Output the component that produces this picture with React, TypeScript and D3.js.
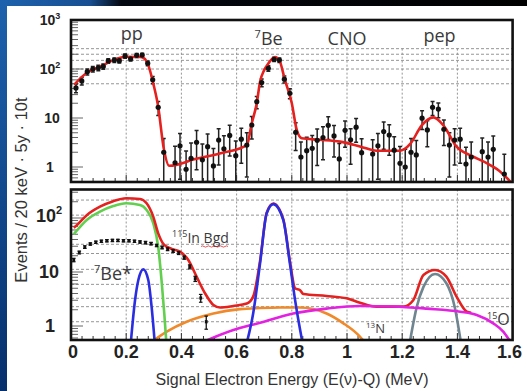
import React from "react";
import * as d3 from "d3";

// ---- upper panel: measured spectrum (E in MeV, events per bin) ----
const dataE = [0.018, 0.039, 0.059, 0.079, 0.099, 0.117, 0.135, 0.157, 0.175, 0.196, 0.216, 0.238, 0.258, 0.278, 0.296, 0.316, 0.336, 0.377, 0.395, 0.417, 0.435, 0.455, 0.476, 0.495, 0.516, 0.535, 0.554, 0.575, 0.597, 0.617, 0.637, 0.655, 0.673, 0.691, 0.715, 0.736, 0.755, 0.773, 0.793, 0.814, 0.833, 0.854, 0.874, 0.892, 0.913, 0.932, 0.953, 0.972, 0.993, 1.013, 1.033, 1.053, 1.093, 1.112, 1.133, 1.153, 1.171, 1.192, 1.211, 1.232, 1.251, 1.272, 1.291, 1.31, 1.331, 1.351, 1.371, 1.39, 1.41, 1.431, 1.45, 1.49, 1.511, 1.53, 1.57];
const dataV = [41, 57, 88, 100, 106, 113, 146, 152, 148, 184, 162, 190, 192, 131, 60, 16.5, 2.0, 1.22, 2.7, 0.9, 1.5, 3.2, 1.4, 2.6, 1.05, 3.55, 2.36, 4.4, 1.7, 3.7, 2.8, 7.2, 21.5, 53, 103, 158, 152, 62, 32, 5.1, 1.6, 2.15, 2.4, 3.5, 4.0, 7.1, 4.3, 1.46, 5.6, 3.6, 6.5, 1.96, 1.84, 2.7, 5.3, 4.5, 2.2, 1.19, 1.0, 2.0, 1.76, 9.9, 5.7, 16.5, 15.2, 5.9, 2.8, 3.55, 3.7, 1.15, 1.6, 2.05, 1.6, 2.3, 0.72];

// fitted total spectrum
const fitE = [0.012, 0.057, 0.105, 0.153, 0.2, 0.25, 0.265, 0.28, 0.298, 0.316, 0.335, 0.356, 0.45, 0.55, 0.637, 0.655, 0.673, 0.685, 0.7, 0.715, 0.739, 0.755, 0.775, 0.8, 0.818, 0.836, 0.9, 0.975, 1.05, 1.107, 1.19, 1.23, 1.27, 1.313, 1.35, 1.397, 1.45, 1.506, 1.55, 1.6];
const fitV = [48, 84, 111, 152, 178, 176, 165, 120, 51, 17, 2.6, 1.06, 1.45, 1.95, 2.8, 7.8, 20, 55, 95, 130, 175, 150, 60, 20, 5.7, 3.85, 3.6, 3.3, 2.6, 2.15, 2.15, 3.0, 7, 10.3, 7, 2.6, 1.7, 1.2, 0.85, 0.45];

const topLabels = ["pp", "CNO", "pep"];
const topLabelE = [0.22, 1.0, 1.335];

// ---- lower panel: expected components ----
const totalE = [0.01, 0.018, 0.057, 0.105, 0.153, 0.2, 0.25, 0.274, 0.298, 0.316, 0.335, 0.359, 0.395, 0.425, 0.455, 0.486, 0.516, 0.54, 0.588, 0.637, 0.66, 0.685, 0.709, 0.733, 0.769, 0.793, 0.812, 0.83, 0.842, 0.926, 0.999, 1.047, 1.107, 1.204, 1.24, 1.277, 1.319, 1.36, 1.397, 1.434, 1.45];
const totalV = [66, 71, 113, 162, 205, 232, 225, 187, 106, 52, 33, 27.5, 23.8, 16.7, 8.2, 4.0, 2.45, 2.2, 2.35, 2.6, 3.5, 16, 125, 185, 95, 16, 5, 4.6, 3.9, 3.6, 3.25, 2.7, 2.28, 2.28, 3.0, 8.8, 10.9, 8.2, 3.5, 1.84, 1.75];

const ppE = [0.01, 0.018, 0.057, 0.105, 0.153, 0.2, 0.25, 0.274, 0.298, 0.316, 0.328, 0.338, 0.346];
const ppV = [50, 56, 92, 131, 166, 187, 174, 141, 80, 29, 7.1, 1.7, 0.45];

const be7sE = [0.216, 0.232, 0.244, 0.262, 0.28, 0.292, 0.304];
const be7sV = [0.45, 3.0, 7.1, 11.2, 7.1, 2.28, 0.45];

const be7E = [0.635, 0.66, 0.685, 0.709, 0.733, 0.769, 0.793, 0.812, 0.84];
const be7V = [0.45, 1.7, 14.5, 122, 181, 92, 14.5, 3.0, 0.45];

const pepE = [1.226, 1.253, 1.277, 1.319, 1.36, 1.39, 1.414];
const pepV = [0.45, 2.28, 5.3, 9.2, 6.2, 2.28, 0.45];

const n13E = [0.29, 0.347, 0.419, 0.516, 0.612, 0.685, 0.757, 0.83, 0.926, 0.987, 1.035, 1.068];
const n13V = [0.5, 0.79, 1.2, 1.7, 2.05, 2.15, 2.2, 2.2, 1.7, 1.12, 0.73, 0.48];

const o15E = [0.476, 0.588, 0.685, 0.805, 0.926, 1.047, 1.168, 1.289, 1.41, 1.47, 1.53, 1.567, 1.595];
const o15V = [0.5, 0.84, 1.15, 1.7, 2.1, 2.35, 2.3, 2.1, 1.84, 1.6, 1.12, 0.78, 0.48];

// 115In background points
const inE = [0.01, 0.03, 0.05, 0.07, 0.09, 0.11, 0.13, 0.15, 0.17, 0.19, 0.21, 0.23, 0.25, 0.27, 0.29, 0.31, 0.33, 0.35, 0.37, 0.39, 0.41, 0.43, 0.45, 0.47, 0.49];
const inV = [16.7, 23, 29, 33, 35.5, 37, 38, 38.5, 38.5, 38, 38, 37, 36, 35, 33.5, 31, 28.5, 26.5, 24.5, 22.5, 18.5, 12.5, 7.5, 3.3, 1.2];

// axis ticks
const xTicks = [0, 0.2, 0.4, 0.6, 0.8, 1, 1.2, 1.4, 1.6];
const topGridV = [260, 200, 150, 100, 50];
const botGridV = [215, 113, 32.6, 22, 11.2, 5.9, 3.26, 2.28, 1.2];

const W = 527;
const H = 391;
const X0 = 71;
const X1 = 512.6;
const TOP_Y0 = 20;
const TOP_Y1 = 182;
const BOT_Y0 = 189.5;
const BOT_Y1 = 340;

const x = d3.scaleLinear().domain([0, 1.6]).range([X0, X1]);
const yTop = d3.scaleLog().domain([1, 1000]).range([167, 20]);
const yBot = d3.scaleLog().domain([1, 100]).range([326, 218]);

const zip = (es: number[], vs: number[]) => es.map((e, i) => [e, vs[i]] as [number, number]);

function linePath(es: number[], vs: number[], y: d3.ScaleLogarithmic<number, number>) {
  return d3
    .line<[number, number]>()
    .x((d) => x(d[0]))
    .y((d) => y(d[1]))
    .curve(d3.curveMonotoneX)(zip(es, vs)) as string;
}

function logMinorTicks(lo: number, hi: number) {
  const out: { v: number; major: boolean }[] = [];
  for (let p = -1; p <= 3; p++) {
    for (let k = 1; k <= 9; k++) {
      const v = k * Math.pow(10, p);
      if (v >= lo && v <= hi) out.push({ v, major: k === 1 });
    }
  }
  return out;
}

const TICK_FONT = "'Liberation Sans', Arial, sans-serif";
const LABEL_FONT = "'Open Sans', 'Noto Sans', sans-serif";

export default function App() {
  const minorX = d3.range(0, 1.6001, 0.04);
  const gridX = [0.2, 0.4, 0.6, 0.8, 1.0, 1.2, 1.4];

  const topTicks = logMinorTicks(0.5, 1000);
  const botTicks = logMinorTicks(0.55, 340);

  const bottomCurves: { es: number[]; vs: number[]; color: string }[] = [
    { es: n13E, vs: n13V, color: "#f0892a" },
    { es: ppE, vs: ppV, color: "#62cf4f" },
    { es: pepE, vs: pepV, color: "#6f8590" },
    { es: totalE, vs: totalV, color: "#e3211f" },
    { es: o15E, vs: o15V, color: "#e321e0" },
    { es: be7sE, vs: be7sV, color: "#2a2ee0" },
    { es: be7E, vs: be7V, color: "#2a2ee0" },
  ];

  return (
    <svg
      width={W}
      height={H}
      style={{ position: "absolute", left: 0, top: 0, display: "block" }}
    >
      <defs>
        <linearGradient id="sideBlue" x1="0" y1="0" x2="0" y2="1">
          <stop offset="0" stopColor="#1d62ad" />
          <stop offset="1" stopColor="#06306c" />
        </linearGradient>
        <linearGradient id="topStrip" x1="0" y1="0" x2="1" y2="0">
          <stop offset="0" stopColor="#1d62ad" />
          <stop offset="0.17" stopColor="#184f92" />
          <stop offset="0.23" stopColor="#040810" />
          <stop offset="1" stopColor="#000000" />
        </linearGradient>
        <clipPath id="clipTop">
          <rect x={X0} y={TOP_Y0} width={X1 - X0} height={TOP_Y1 - TOP_Y0} />
        </clipPath>
        <clipPath id="clipBot">
          <rect x={X0} y={BOT_Y0} width={X1 - X0} height={BOT_Y1 - BOT_Y0} />
        </clipPath>
      </defs>

      {/* slide background */}
      <rect x={0} y={0} width={W} height={H} fill="#ffffff" />
      <rect x={0} y={0} width={W} height={6} fill="url(#topStrip)" />
      <rect x={0} y={0} width={7} height={H} fill="url(#sideBlue)" />

      {/* ===== upper panel ===== */}
      <g clipPath="url(#clipTop)">
        {topGridV.map((v) => (
          <line key={"tg" + v} x1={X0} x2={X1} y1={yTop(v)} y2={yTop(v)} stroke="#8a8a8a" strokeWidth={0.9} strokeDasharray="3,2" />
        ))}
        {gridX.map((e) => (
          <line key={"tv" + e} x1={x(e)} x2={x(e)} y1={yTop(260)} y2={TOP_Y1} stroke="#8a8a8a" strokeWidth={0.9} strokeDasharray="2,2" />
        ))}
        {topTicks.map((t) => (
          <line key={"tt" + t.v} x1={X0} x2={X0 + (t.major ? 12 : 7)} y1={yTop(t.v)} y2={yTop(t.v)} stroke="#666" strokeWidth={1} />
        ))}
        {minorX.map((e, i) => (
          <line key={"tx" + i} x1={x(e)} x2={x(e)} y1={TOP_Y1} y2={TOP_Y1 - (i % 5 === 0 ? 7 : 4)} stroke="#333" strokeWidth={1} />
        ))}
        {/* error bars */}
        {dataE.map((e, i) => {
          const v = dataV[i];
          const err = 1.3 * Math.sqrt(v);
          const hi = yTop(v + err);
          const lo = v - err > 0.2 ? yTop(v - err) : TOP_Y1 + 5;
          const cx = x(e);
          return (
            <g key={"eb" + i} stroke="#222" strokeWidth={1.5}>
              <line x1={cx} x2={cx} y1={hi} y2={lo} />
              <line x1={cx - 2} x2={cx + 2} y1={hi} y2={hi} />
              {v - err > 0.2 && <line x1={cx - 2} x2={cx + 2} y1={lo} y2={lo} />}
            </g>
          );
        })}
        <path d={linePath(fitE, fitV, yTop)} fill="none" stroke="#e5211f" strokeWidth={2.6} strokeLinejoin="round" />
        {dataE.map((e, i) => (
          <circle key={"dp" + i} cx={x(e)} cy={yTop(dataV[i])} r={2.6} fill="#111" />
        ))}
      </g>
      <rect x={X0} y={TOP_Y0} width={X1 - X0} height={TOP_Y1 - TOP_Y0} fill="none" stroke="#111" strokeWidth={2.6} />

      {/* upper panel labels */}
      <g fontFamily={LABEL_FONT} fontSize={18} fill="#3a3a3a" textAnchor="middle">
        {topLabels.map((t, i) => (
          <text key={t} x={x(topLabelE[i])} y={i === 0 ? 40 : i === 1 ? 45 : 42}>{t}</text>
        ))}
        <text x={x(0.716)} y={45}>
          <tspan fontSize={11} dy={-7}>7</tspan>
          <tspan dy={7}>Be</tspan>
        </text>
      </g>

      {/* upper y tick labels */}
      <g fontFamily={TICK_FONT} fontWeight="bold" fontSize={14} fill="#222" textAnchor="middle">
        <text x={50} y={yTop(1000) + 5}>10<tspan fontSize={9} dy={-6}>3</tspan></text>
        <text x={50} y={yTop(100) + 5}>10<tspan fontSize={9} dy={-6}>2</tspan></text>
        <text x={52} y={yTop(10) + 5}>10</text>
        <text x={50} y={yTop(1) + 5}>1</text>
      </g>

      {/* ===== lower panel ===== */}
      <g clipPath="url(#clipBot)">
        {botGridV.map((v) => (
          <line key={"bg" + v} x1={X0} x2={X1} y1={yBot(v)} y2={yBot(v)} stroke="#8a8a8a" strokeWidth={0.9} strokeDasharray="3,2" />
        ))}
        {gridX.map((e) => (
          <line key={"bv" + e} x1={x(e)} x2={x(e)} y1={BOT_Y0} y2={BOT_Y1} stroke="#8a8a8a" strokeWidth={0.9} strokeDasharray="2,2" />
        ))}
        {botTicks.map((t) => (
          <line key={"bt" + t.v} x1={X0} x2={X0 + (t.major ? 12 : 7)} y1={yBot(t.v)} y2={yBot(t.v)} stroke="#666" strokeWidth={1} />
        ))}
        {minorX.map((e, i) => (
          <line key={"bx" + i} x1={x(e)} x2={x(e)} y1={BOT_Y1} y2={BOT_Y1 - (i % 5 === 0 ? 7 : 4)} stroke="#333" strokeWidth={1} />
        ))}
        {bottomCurves.map((c, i) => (
          <path key={"bc" + i} d={linePath(c.es, c.vs, yBot)} fill="none" stroke={c.color} strokeWidth={2.6} strokeLinejoin="round" />
        ))}
        {/* 115In background points */}
        {inE.map((e, i) => {
          const v = inV[i];
          const err = 0.3 * Math.sqrt(v);
          const cx = x(e);
          return (
            <g key={"in" + i}>
              <line x1={cx} x2={cx} y1={yBot(v + err)} y2={yBot(v - err)} stroke="#111" strokeWidth={1.3} />
              <line x1={cx - 1.8} x2={cx + 1.8} y1={yBot(v + err)} y2={yBot(v + err)} stroke="#111" strokeWidth={1.2} />
              <line x1={cx - 1.8} x2={cx + 1.8} y1={yBot(v - err)} y2={yBot(v - err)} stroke="#111" strokeWidth={1.2} />
              <rect x={cx - 1.4} y={yBot(v) - 1.6} width={2.8} height={3.2} fill="#111" />
            </g>
          );
        })}
      </g>
      <rect x={X0} y={BOT_Y0} width={X1 - X0} height={BOT_Y1 - BOT_Y0} fill="none" stroke="#111" strokeWidth={2.6} />

      {/* lower panel labels */}
      <g fontFamily={LABEL_FONT} fill="#3a3a3a">
        <text x={172} y={243} fontSize={14}>
          <tspan fontSize={9} dy={-6}>115</tspan>
          <tspan dy={6}>In Bgd</tspan>
        </text>
        <path d="M201,246.5 q1.5,-1.2 3,0 t3,0 t3,0 t3,0 t3,0 t3,0 t3,0 t3,0 t3,0" fill="none" stroke="#e03030" strokeWidth={0.8} />
        <text x={94} y={280} fontSize={18}>
          <tspan fontSize={11} dy={-7}>7</tspan>
          <tspan dy={7}>Be*</tspan>
        </text>
        <text x={366} y={333} fontSize={13}>
          <tspan fontSize={8} dy={-5}>13</tspan>
          <tspan dy={5}>N</tspan>
        </text>
        <text x={487} y={325} fontSize={16}>
          <tspan fontSize={9} dy={-6}>15</tspan>
          <tspan dy={6}>O</tspan>
        </text>
      </g>

      {/* lower y tick labels */}
      <g fontFamily={TICK_FONT} fontWeight="bold" fontSize={18} fill="#222" textAnchor="middle">
        <text x={49} y={yBot(100) + 4}>10<tspan fontSize={11} dy={-8}>2</tspan></text>
        <text x={49} y={yBot(10) + 6}>10</text>
        <text x={50} y={yBot(1) + 6}>1</text>
      </g>

      {/* x tick labels */}
      <g fontFamily={TICK_FONT} fontWeight="bold" fontSize={18} fill="#222" textAnchor="middle">
        {xTicks.map((t) => (
          <text key={"xl" + t} x={t === 0 ? x(t) + 2 : t === 1.6 ? x(t) - 3 : x(t)} y={358}>
            {d3.format("~g")(t)}
          </text>
        ))}
      </g>

      {/* axis titles */}
      <text x={292} y={385} textAnchor="middle" fontFamily={TICK_FONT} fontSize={16} fill="#333">
        Signal Electron Energy (E(ν)-Q) (MeV)
      </text>
      <text
        transform="translate(27,190) rotate(-90)"
        textAnchor="middle"
        fontFamily={TICK_FONT}
        fontSize={16.5}
        fill="#333"
      >
        Events / 20 keV · 5y · 10t
      </text>
    </svg>
  );
}
